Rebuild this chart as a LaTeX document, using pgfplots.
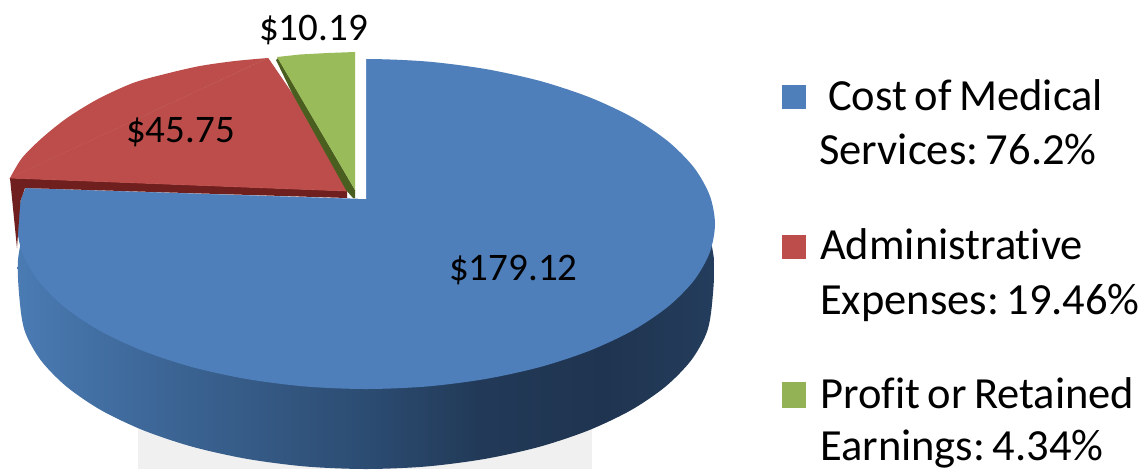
\documentclass[border=0pt]{standalone}
\usepackage{pgfplots}
\usepackage{fontspec}
\pgfplotsset{compat=1.18}
\setmainfont[Ligatures=NoCommon]{Carlito}
\definecolor{cblue}{HTML}{4F7FBA}
\definecolor{cred}{HTML}{BC4D4A}
\definecolor{cgreen}{HTML}{9ABB59}
\definecolor{dred}{HTML}{6E1F1E}
\definecolor{dgreen}{HTML}{4A5E20}
\definecolor{sA}{HTML}{4A7BB3}
\definecolor{sB}{HTML}{3F6A9C}
\definecolor{sC}{HTML}{355A85}
\definecolor{sD}{HTML}{2C4C72}
\definecolor{sE}{HTML}{223A58}
\definecolor{sF}{HTML}{1F3450}
\definecolor{sG}{HTML}{243D5C}
\pgfdeclarehorizontalshading{pieside}{100bp}{color(0bp)=(sA);color(25bp)=(sA);color(33bp)=(sB);color(42bp)=(sC);color(50bp)=(sD);color(58bp)=(sE);color(67bp)=(sF);color(75bp)=(sG);color(100bp)=(sG)}
\newcommand{\lab}{\fontsize{39pt}{41pt}\selectfont}
\newcommand{\leg}{\fontsize{44.5pt}{46pt}\selectfont\frenchspacing\spaceskip=.17em\relax}
\tikzset{txt/.style={anchor=base west, inner sep=0pt, text=black}}
\begin{document}
\begin{tikzpicture}
\begin{axis}[
  scale only axis, width=1147pt, height=469pt,
  xmin=0, xmax=1147, ymin=0, ymax=469, y dir=reverse,
  hide axis, clip=true,
  every axis plot/.append style={draw=none, mark=none},
]
% page
\addplot[fill=white] coordinates {(0,0)(1147,0)(1147,469)(0,469)} --cycle;
% grey band below the pie
\addplot[fill=black!6] coordinates {(138,425)(592,425)(592,469)(138,469)} --cycle;
% side wall of the blue slice
\addplot[smooth, shading=pieside] coordinates {(705,215)(714,260)(712,304)(706.7,332.6)(691.1,360.4)(665.6,386.5)(631.1,410.1)(588.4,430.4)(539,446.9)(484.3,459)(426.1,466.5)(366,469)(305.9,466.5)(247.7,459)(193,446.9)(143.6,430.4)(100.9,410.1)(66.4,386.5)(40.9,360.4)(25.3,332.6)(20,304)(18,260)(27,215)};
% blue slice top: the ellipse
\addplot[smooth, fill=cblue] coordinates {(63.8,141.5)(98.7,117.9)(141.7,97.6)(191.5,81.1)(246.6,69)(305.4,61.5)(366,59)(426.6,61.5)(485.4,69)(540.5,81.1)(590.3,97.6)(633.3,117.9)(668.2,141.5)(694,167.6)(709.7,195.4)(715,224)(709.7,252.6)(694,280.4)(668.2,306.5)(633.3,330.1)(590.3,350.4)(540.5,366.9)(485.4,379)(426.6,386.5)(366,389)(305.4,386.5)(246.6,379)(191.5,366.9)(141.7,350.4)(98.7,330.1)(63.8,306.5)(38,280.4)(22.3,252.6)(17,224)(22.3,195.4)(38,167.6)(63.8,141.5)};
% the gap where the two small slices are pulled out
\addplot[fill=white] coordinates {(366,199)(366,20)(0,20)(0,187.5)(25,188)} --cycle;
% red slice side
\addplot[fill=dred] coordinates {(10,178)(347,191)(347,198)(25,188)(20.4,201)(17,248)(10,178)} --cycle;
% red slice top
\addplot[smooth, fill=cred] coordinates {(10,178)(22,158)(42,138)(67,118)(98,99)(133,83)(165,74)(200,66)(235,61)(268,58)};
\addplot[fill=cred, draw=cred, line width=0.7pt] coordinates {(10.3,178)(268,58.3)(293,95)(347,191)} --cycle;
% green slice side
\addplot[fill=dgreen] coordinates {(276,60)(292,93)(346,190)(353,198)(355,198)(355,190)(278,58)} --cycle;
% green slice top
\addplot[fill=cgreen] coordinates {(277,57)(300,54.5)(328,53)(355,52)(355,190)} --cycle;
% legend swatches
\addplot[fill=cblue] coordinates {(782,85)(806,85)(806,109)(782,109)} --cycle;
\addplot[fill=cred] coordinates {(782,235)(806,235)(806,259)(782,259)} --cycle;
\addplot[fill=cgreen!95!black] coordinates {(782,382)(806,382)(806,408)(782,408)} --cycle;
% data labels
\node[txt] at (axis cs:259,40) {\lab\$10.19};
\node[txt] at (axis cs:126,142) {\lab\$45.75};
\node[txt] at (axis cs:449,280) {\lab\$179.12};
% legend text
\node[txt] at (axis cs:828,110) {\leg Cost of Medical};
\node[txt] at (axis cs:819,164) {\leg Services: 76.2\%};
\node[txt] at (axis cs:820,259) {\leg Administrative};
\node[txt] at (axis cs:820,314) {\leg Expenses: 19.46\%};
\node[txt] at (axis cs:820,408) {\leg Profit or Retained};
\node[txt] at (axis cs:820,460) {\leg Earnings: 4.34\%};
\end{axis}
\end{tikzpicture}
\end{document}
